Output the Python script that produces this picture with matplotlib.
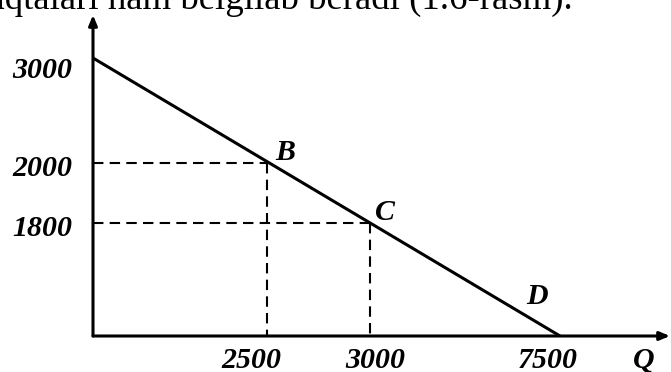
import matplotlib
matplotlib.use("Agg")
import matplotlib.pyplot as plt

# schematic drawing units (not to scale, as in the original figure)
line_start = (0, 278)      # P axis intercept
line_end = (467, 0)        # Q axis intercept
pt_names = ["B", "C"]
pt_x = [174, 277]
pt_y = [173, 113]

p_labels = ["3000", "2000", "1800"]
p_label_y = [266, 168, 108]
q_labels = ["2500", "3000", "7500"]
q_label_x = [158, 282, 455]

W, H = 671, 372
fig = plt.figure(figsize=(W / 100, H / 100), dpi=100)
ax = fig.add_axes([93 / W, 36 / H, 577 / W, 321 / H])
ax.set_xlim(0, 577)
ax.set_ylim(0, 321)
ax.axis("off")

serif = "Liberation Serif"
lab = dict(family=serif, fontsize=21.5, fontweight="bold", style="italic", clip_on=False)

# axes with arrows
arrow = dict(arrowstyle="-|>,head_length=0.6,head_width=0.25", lw=2.2, color="black",
             shrinkA=0, shrinkB=0)
ax.annotate("", xy=(577, 0), xytext=(0, 0), arrowprops=arrow, annotation_clip=False)
ax.annotate("", xy=(0, 321), xytext=(0, 0), arrowprops=arrow, annotation_clip=False)

# demand line
ax.plot([line_start[0], line_end[0]], [line_start[1], line_end[1]], color="black", lw=2.2,
        solid_capstyle="butt")

# dashed guides
for x, y in zip(pt_x, pt_y):
    ax.plot([0, x], [y, y], color="black", lw=1.5, dashes=(5, 3))
    ax.plot([x, x], [y, 0], color="black", lw=1.5, dashes=(5, 3))

# point labels
ax.text(pt_x[0] + 18, pt_y[0] + 10, pt_names[0], ha="center", va="center", **lab)
ax.text(pt_x[1] + 15, pt_y[1] + 11, pt_names[1], ha="center", va="center", **lab)
ax.text(444, 39, "D", ha="center", va="center", **lab)

for t, y in zip(p_labels, p_label_y):
    ax.text(-21, y, t, ha="right", va="center", **lab)
for t, x in zip(q_labels, q_label_x):
    ax.text(x, -24, t, ha="center", va="center", **lab)
ax.text(551, -24, "Q", ha="center", va="center", **lab)

# cut-off line of body text at the top of the page scan
fig.text(573 / W, 1 - 9 / H, "nuqtalari ham belgilab beradi (1.6-rasm).", ha="right",
         va="baseline", family=serif, fontsize=26.5)

fig.savefig("out.png", dpi=100)
